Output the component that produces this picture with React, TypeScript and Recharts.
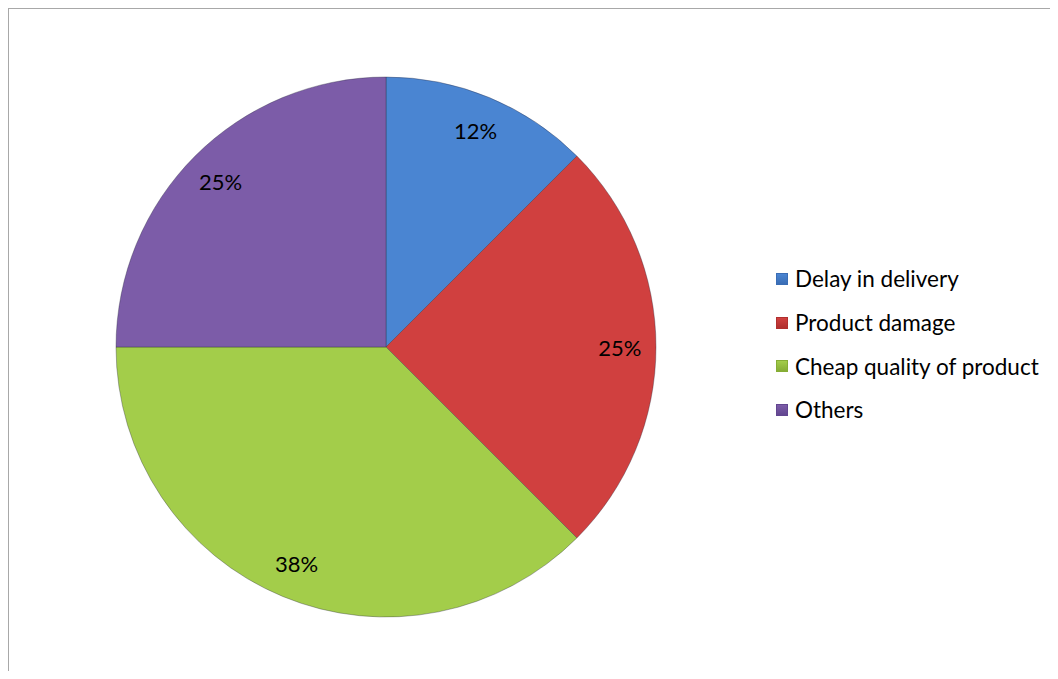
import { PieChart, Pie, Cell, Legend } from 'recharts';

const categories = ['Delay in delivery', 'Product damage', 'Cheap quality of product', 'Others'];
const values = [12.5, 25, 37.5, 25];
const valueLabels = ['12%', '25%', '38%', '25%'];

const COLORS = ['#4a85d2', '#d0403f', '#a3cd4a', '#7c5ca8'];
const EDGE = ['#3a6db5', '#b02f2e', '#86ad35', '#624690'];

const data = categories.map((name, i) => ({ name, value: values[i] }));

const RAD = Math.PI / 180;

function renderLabel(props: any) {
  const { cx, cy, midAngle, outerRadius, index } = props;
  const r = outerRadius * 0.866;
  const x = cx + r * Math.cos(-midAngle * RAD);
  const y = cy + r * Math.sin(-midAngle * RAD);
  return (
    <text
      x={x}
      y={y}
      textAnchor="middle"
      dominantBaseline="central"
      fill="#000"
      fontSize={22}
      fontFamily="Lato, 'Open Sans', sans-serif"
    >
      {valueLabels[index]}
    </text>
  );
}

function LegendContent() {
  return (
    <div style={{ fontFamily: "Lato, 'Open Sans', sans-serif", fontSize: 22.5, color: '#000' }}>
      {categories.map((c, i) => (
        <div key={c} style={{ display: 'flex', alignItems: 'center', height: 43.7 }}>
          <span
            style={{
              display: 'inline-block',
              width: 12,
              height: 12,
              marginRight: 7,
              background: `linear-gradient(180deg, ${COLORS[i]}, ${EDGE[i]})`,
              border: `1px solid ${EDGE[i]}`,
              boxSizing: 'border-box',
            }}
          />
          <span>{c}</span>
        </div>
      ))}
    </div>
  );
}

export default function App() {
  return (
    <div style={{ position: 'relative', width: 1058, height: 679, margin: -8, background: '#fff', overflow: 'hidden' }}>
      <div
        style={{
          position: 'absolute',
          left: 7,
          top: 7,
          right: -10,
          bottom: -10,
          borderTop: '2px solid #a8a8a8',
          borderLeft: '2px solid #a8a8a8',
        }}
      />
      <PieChart
        width={1058}
        height={679}
        margin={{ top: 0, right: 0, bottom: 0, left: 0 }}
        style={{ position: 'absolute', left: 0, top: 0 }}
      >
        <defs>
          {COLORS.map((c, i) => (
            <radialGradient key={i} id={`grad-${i}`} cx="50%" cy="50%" r="50%">
              <stop offset="0%" stopColor={c} />
              <stop offset="90%" stopColor={c} />
              <stop offset="100%" stopColor={EDGE[i]} />
            </radialGradient>
          ))}
        </defs>
        <Pie
          data={data}
          dataKey="value"
          nameKey="name"
          cx={386}
          cy={347}
          outerRadius={270}
          startAngle={90}
          endAngle={-270}
          label={renderLabel}
          labelLine={false}
          isAnimationActive={false}
          stroke="rgba(40,40,60,0.35)"
          strokeWidth={1}
        >
          {data.map((_, i) => (
            <Cell key={`cell-${i}`} fill={COLORS[i]} />
          ))}
        </Pie>
        <Legend
          layout="vertical"
          content={<LegendContent />}
          wrapperStyle={{ left: 776, top: 257, width: 282, bottom: 'auto', right: 'auto' }}
        />
      </PieChart>
    </div>
  );
}
